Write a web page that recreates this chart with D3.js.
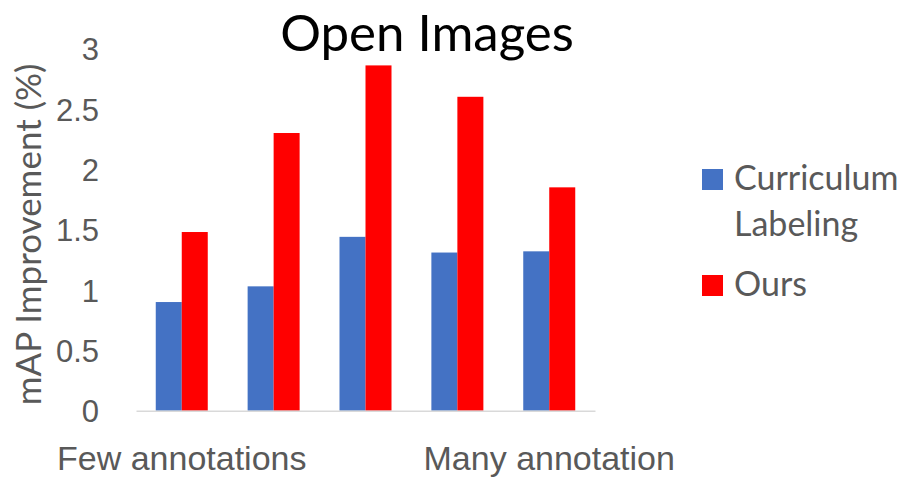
<!DOCTYPE html>
<html>
<head>
<meta charset="utf-8">
<script src="https://cdn.jsdelivr.net/npm/d3@7"></script>
<style>
  html, body { margin: 0; padding: 0; background: #fff; }
  svg { display: block; font-family: Lato, "Open Sans", sans-serif; }
</style>
</head>
<body>
<svg id="chart" width="902" height="479"></svg>
<script>
// Open Images: mAP improvement per annotation budget
const categories = ["Few annotations", "", " ", "  ", "Many annotation"];
const seriesNames = ["Curriculum Labeling", "Ours"];
const curriculumLabeling = [0.90, 1.03, 1.44, 1.31, 1.32];
const ours = [1.48, 2.30, 2.86, 2.60, 1.85];
const yTicks = [0, 0.5, 1, 1.5, 2, 2.5, 3];
const colors = ["#4472C4", "#FF0000"];

const svg = d3.select("#chart");
const margin = { left: 136, right: 307, top: 48.5, bottom: 68.3 };
const W = 902, H = 479;

const x = d3.scaleBand()
  .domain(categories)
  .range([margin.left, W - margin.right])
  .paddingInner(0.434)
  .paddingOuter(0.215);

const inner = d3.scaleBand()
  .domain(seriesNames)
  .range([0, x.bandwidth()]);

const y = d3.scaleLinear()
  .domain([0, 3])
  .range([H - margin.bottom, margin.top]);

const rows = categories.map((c, i) => ({ cat: c, values: [curriculumLabeling[i], ours[i]] }));

// bars
svg.append("g")
  .selectAll("g")
  .data(rows)
  .join("g")
  .attr("transform", d => `translate(${x(d.cat)},0)`)
  .selectAll("rect")
  .data(d => d.values.map((v, k) => ({ name: seriesNames[k], v, k })))
  .join("rect")
  .attr("x", d => inner(d.name))
  .attr("width", inner.bandwidth())
  .attr("y", d => y(d.v))
  .attr("height", d => y(0) - y(d.v))
  .attr("fill", d => colors[d.k]);

// category axis
const xAxis = svg.append("g")
  .attr("transform", `translate(0,${y(0)})`)
  .call(d3.axisBottom(x).tickSize(0).tickPadding(0));
xAxis.select(".domain").attr("stroke", "#d9d9d9").attr("stroke-width", 1.5);
xAxis.selectAll("text")
  .attr("fill", "#595959")
  .attr("font-size", 34)
  .attr("dy", null)
  .attr("y", 59);

// value axis
const yAxis = svg.append("g")
  .attr("transform", `translate(${margin.left - 37},0)`)
  .call(d3.axisLeft(y).tickValues(yTicks).tickSize(0).tickPadding(0).tickFormat(d3.format("")));
yAxis.select(".domain").remove();
yAxis.selectAll("text")
  .attr("fill", "#595959")
  .attr("font-size", 31)
  .attr("dy", "0.36em");

// axis title
svg.append("text")
  .attr("transform", `translate(41,${y(1.46)}) rotate(-90)`)
  .attr("text-anchor", "middle")
  .attr("fill", "#595959")
  .attr("font-size", 35)
  .text("mAP Improvement (%)");

// title
svg.append("text")
  .attr("x", 427)
  .attr("y", 51)
  .attr("text-anchor", "middle")
  .attr("fill", "#000")
  .attr("font-size", 51)
  .text("Open Images");

// legend
const legend = svg.append("g").attr("transform", "translate(702,0)");
const legendItems = [
  { lines: ["Curriculum", "Labeling"], color: colors[0], top: 169 },
  { lines: ["Ours"], color: colors[1], top: 275 }
];
legendItems.forEach(item => {
  legend.append("rect")
    .attr("x", 0).attr("y", item.top)
    .attr("width", 21).attr("height", 21)
    .attr("fill", item.color);
  const t = legend.append("text")
    .attr("x", 32)
    .attr("y", item.top + 21)
    .attr("fill", "#595959")
    .attr("font-size", 34);
  item.lines.forEach((ln, i) => {
    t.append("tspan").attr("x", 32).attr("dy", i === 0 ? 0 : 46).text(ln);
  });
});
</script>
</body>
</html>
